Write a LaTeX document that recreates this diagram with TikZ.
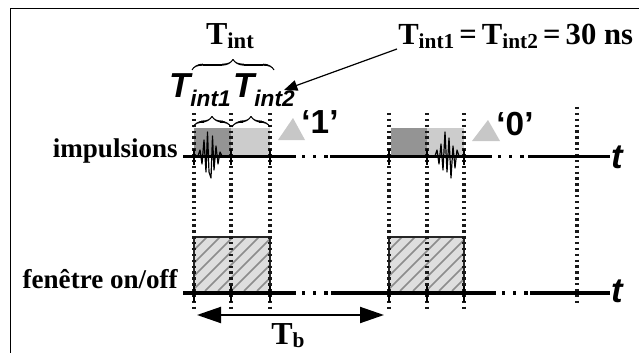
\documentclass[tikz,border=0pt]{standalone}
\usepackage{fontspec}
\setmainfont{Liberation Serif}
\newfontfamily\lsans{Liberation Sans}
\usetikzlibrary{arrows.meta,decorations.pathreplacing,calligraphy}
\tikzset{
 lbl/.style={inner sep=0pt,font=\bfseries\fontsize{20.3}{22}\selectfont},
 bigl/.style={inner sep=0pt,font=\bfseries\fontsize{24}{26}\selectfont},
 eql/.style={inner sep=0pt,font=\bfseries\fontsize{23}{25}\selectfont},
 itl/.style={inner sep=0pt,font=\lsans\bfseries\itshape\fontsize{26}{28}\selectfont},
 digit/.style={inner sep=0pt,font=\lsans\bfseries\fontsize{25}{27}\selectfont},
 tlabel/.style={inner sep=0pt,font=\lsans\bfseries\itshape\fontsize{26}{28}\selectfont},
 axisline/.style={line width=2.8pt},
 dotsline/.style={line width=2.4pt,dash pattern=on 2.4pt off 6pt},
 guide/.style={line width=2.3pt,dash pattern=on 1.8pt off 2.6pt,black!90},
 win/.style={draw=black!85,line width=1.4pt},
 tri/.style={fill=black!22},
 pulse/.style={line width=0.9pt,line join=round},
 bracelg/.style={line width=1.5pt,decorate,decoration={calligraphic brace,amplitude=8pt}},
 bracesm/.style={line width=1.5pt,decorate,decoration={calligraphic brace,amplitude=8pt}},
}
\newcommand{\hatchbox}[2]{%
 \begin{scope}
  \clip (#1,237) rectangle (#2,291);
  \fill[black!13] (#1,237) rectangle (#2,291);
  \foreach \k in {0,13,...,130} \draw[black!45,line width=1.1pt] (#1-54+\k,291) -- (#1+\k,237);
 \end{scope}}
\begin{document}
\begin{tikzpicture}[x=0.75pt,y=-0.75pt]
\useasboundingbox (0,0) rectangle (639,353);
% frame
\draw[line width=0.8pt] (10.5,353) -- (10.5,8.5) -- (639,8.5);
% shaded slots
\fill[black!42] (194,128) rectangle (231,155);
\fill[black!20] (231,128) rectangle (270,155);
\fill[black!42] (391,128) rectangle (427,155);
\fill[black!20] (427,128) rectangle (464,155);
% hatched windows
\hatchbox{194}{270}
\hatchbox{389}{464}
\draw[win] (194,291) |- (270,237) -- (270,291);
\draw[win] (389,291) |- (464,237) -- (464,291);
% guides
\foreach \x in {194,231,270,389,427,464} \draw[guide] (\x,113) -- (\x,310);
\draw[guide] (577,107) -- (577,303);
% axes
\coordinate (a1s) at (183,156.5); \coordinate (a1e) at (296,156.5);
\coordinate (a2s) at (330,156.5); \coordinate (a2e) at (492,156.5);
\coordinate (a3s) at (528,156.5); \coordinate (a3e) at (610,156.5);
\coordinate (b1s) at (183,293); \coordinate (b1e) at (296,293);
\coordinate (b2s) at (331,293); \coordinate (b2e) at (496,293);
\coordinate (b3s) at (530,293); \coordinate (b3e) at (610,293);
\draw[axisline] (a1s) -- (a1e) (a2s) -- (a2e) (a3s) -- (a3e);
\draw[axisline] (b1s) -- (b1e) (b2s) -- (b2e) (b3s) -- (b3e);
\draw[dotsline] (a1e)++(6,0) -- ++(26,0);
\draw[dotsline] (a2e)++(6,0) -- ++(28,0);
\draw[dotsline] (b1e)++(6,0) -- ++(26,0);
\draw[dotsline] (b2e)++(6,0) -- ++(28,0);
% axis ticks
\foreach \x in {194,231,270,389,427,464} {\draw[line width=1.7pt] (\x,149) -- (\x,165); \draw[line width=1.7pt] (\x,286) -- (\x,302);}
% pulses
\draw[pulse] (198,156) -- (200,150) -- (202,164) -- (204,140) -- (206,172) -- (207.5,132) -- (209,172) -- (211,178) -- (212.5,136) -- (214,170) -- (216,146) -- (218,164) -- (220,152) -- (222,156);
\draw[pulse] (435,156) -- (437,150) -- (439,164) -- (441,144) -- (443,170) -- (445,132) -- (447,172) -- (449,138) -- (451,178) -- (453,146) -- (455,168) -- (457,150) -- (459,156);
% triangles
\fill[tri] (278,140) -- (293,118) -- (305,140) -- cycle;
\fill[tri] (472,141) -- (488,120) -- (500,141) -- cycle;
% braces
\draw[bracelg] (192,70) -- (274,70);
\draw[bracesm] (193,127) -- (231,127);
\draw[bracesm] (232,127) -- (270,127);
% labels
\node[bigl] (tint) at (230,36) {T\raisebox{-0.28ex}{\fontsize{17}{17}\selectfont int}};
\node[itl,anchor=west] (ti1) at (169,90) {T\raisebox{-0.5ex}{\fontsize{17}{17}\selectfont int1}};
\node[itl,anchor=west] (ti2) at (233,90) {T\raisebox{-0.5ex}{\fontsize{17}{17}\selectfont int2}};
\node[eql,anchor=west] (eq) at (398,36) {T\raisebox{-0.28ex}{\fontsize{16}{17}\selectfont int1}\,=\,T\raisebox{-0.28ex}{\fontsize{16}{17}\selectfont int2}\,=\,30 ns};
\node[lbl,anchor=east] (imp) at (178,151) {impulsions};
\node[lbl,anchor=east] (fen) at (178,279) {fenêtre on/off};
\node[digit] (one) at (320,122) {‘1’};
\node[digit] (zero) at (515,124) {‘0’};
\node[tlabel] (t1) at (617,157) {t};
\node[tlabel] (t2) at (617,291) {t};
\node[bigl] (tb) at (288,336) {T\raisebox{-0.2ex}{\fontsize{16}{16}\selectfont b}};
% arrows
\coordinate (tbL) at (197,315); \coordinate (tbR) at (384,315);
\coordinate (arrowtip) at (284,90);
\draw[line width=1.5pt,{Triangle[length=18pt,width=12pt]}-{Triangle[length=18pt,width=12pt]}] (tbL) -- (tbR);
\draw[line width=0.9pt,-{Triangle[length=10pt,width=8pt]}] (eq.west) ++(-1,13) -- (arrowtip);
\end{tikzpicture}
\end{document}
